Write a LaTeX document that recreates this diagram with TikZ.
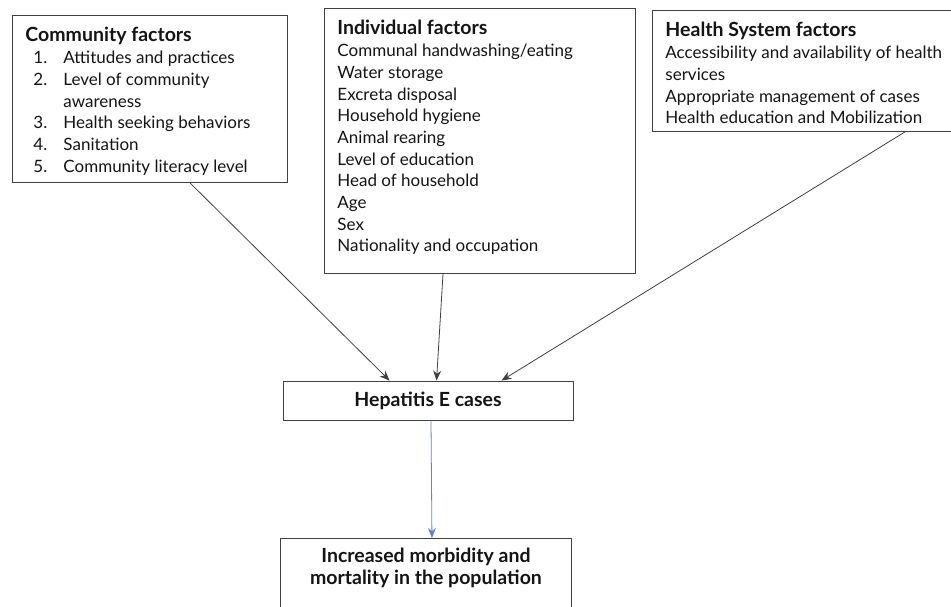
\documentclass[tikz,border=0pt]{standalone}
\usepackage{fontspec}
\setmainfont{Lato}
\usetikzlibrary{arrows.meta}

\definecolor{linegray}{HTML}{404040}
\definecolor{textgray}{HTML}{141414}
\definecolor{flowblue}{HTML}{5B86C9}

\newcommand{\boxtext}[3]{\parbox[t][#2pt][t]{#1pt}{\vspace*{6pt}#3}}
\newcommand{\numitem}[2]{\hspace*{8pt}\makebox[30pt][l]{#1}#2}
\newcommand{\boxhead}[1]{{\bfseries\fontsize{19.5}{21.7}\selectfont #1}}

\tikzset{
	factorbox/.style={draw=linegray, line width=0.9pt, anchor=north west,
		inner xsep=13pt, inner ysep=6pt, text=textgray, align=left,
		font=\fontsize{17}{21.7}\selectfont},
	casebox/.style={draw=linegray, line width=0.9pt, text=textgray,
		font=\bfseries\fontsize{19.5}{21.7}\selectfont},
	cause/.style={draw=linegray, line width=0.8pt, -{Stealth[length=10pt,width=8pt]}},
	effect/.style={draw=flowblue, line width=0.8pt, -{Stealth[length=10pt,width=8pt]}}
}

\begin{document}
\begin{tikzpicture}
	[x=1pt,y=-1pt]
	\useasboundingbox (0,0) rectangle (951,606);
	\clip (0,0) rectangle (951,606);
	\fill[white] (0,0) rectangle (951,606);
	
	\node[factorbox] (community) at (12,15) {\boxtext{249}{155}{%
			\boxhead{Community factors}\\
			\numitem{1.}{Attitudes and practices}\\
			\numitem{2.}{Level of community}\\
			\hspace*{38pt}awareness\\
			\numitem{3.}{Health seeking behaviors}\\
			\numitem{4.}{Sanitation}\\
			\numitem{5.}{Community literacy level}}};
	\node[factorbox] (individual) at (324,8) {\boxtext{285}{253}{%
			\boxhead{Individual factors}\\
			Communal handwashing/eating\\
			Water storage\\
			Excreta disposal\\
			Household hygiene\\
			Animal rearing\\
			Level of education\\
			Head of household\\
			Age\\
			Sex\\
			Nationality and occupation}};
	\node[factorbox] (health) at (652,10) {\boxtext{300}{109}{%
			\boxhead{Health System factors}\\
			Accessibility and availability of health\\
			services\\
			Appropriate management of cases\\
			Health education and Mobilization}};
	
	\node[casebox, minimum width=290, minimum height=39] (hepatitis) at (428,400.5) {Hepatitis E cases};
	\node[casebox, anchor=north west, inner sep=0pt] (outcome) at (280,538)
		{\parbox[t][90pt][t]{291pt}{\centering\vspace*{10pt}Increased morbidity and\\ mortality in the population}};
	
	\draw[cause] ([xshift=178]community.south west) -- ([xshift=107]hepatitis.north west);
	\draw[cause] ([xshift=119]individual.south west) -- ([xshift=154]hepatitis.north west);
	\draw[cause] ([xshift=253]health.south west) -- ([xshift=219]hepatitis.north west);
	\draw[effect] ([xshift=3]hepatitis.south) -- ([xshift=6]outcome.north);
\end{tikzpicture}
\end{document}
